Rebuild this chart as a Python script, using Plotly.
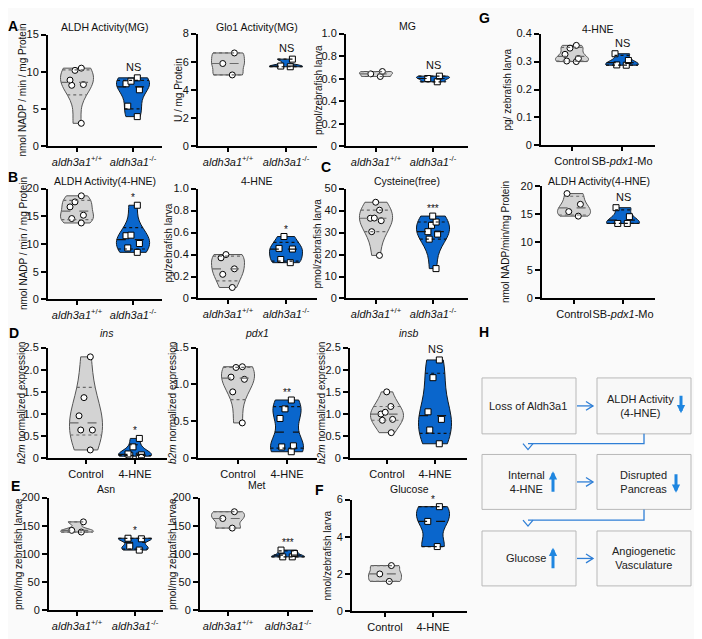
import numpy as np
import plotly.graph_objects as go

W, H = 702, 639
OFF = 8                      # default page body margin
FW, FH = W - OFF, H - OFF    # figure size so that page pixels match the reference
FONT = "Liberation Sans, Arial, Helvetica, sans-serif"
BG = "#fafafa"
GRAY_FILL, GRAY_LINE, GRAY_Q = "#d3d3d3", "#555555", "#6a6a6a"
BLUE_FILL, BLUE_LINE, BLUE_Q = "#0a66cc", "#101820", "#111111"
ARROW_BLUE = "#1f86e0"
LINK_BLUE = "#2f7fd6"

# ---------------- data ----------------
genotype_labels = ["<i>aldh3a1</i><sup>+/+</sup>", "<i>aldh3a1</i><sup>-/-</sup>"]
treatment_labels = ["Control", "4-HNE"]
morphant_labels = ["Control", "SB-<i>pdx1</i>-Mo"]

aldh_mg_wt = [10.5, 10.2, 8.9, 8.2, 8.3, 3.1]
aldh_mg_ko = [9.2, 8.75, 8.4, 7.6, 5.4, 4.0]
glo1_wt = [6.63, 5.88, 5.07]
glo1_ko = [6.19, 5.65, 5.70]
mg_wt = [0.664, 0.643, 0.620]
mg_ko = [0.623, 0.602, 0.573]
aldh_hne_wt = [18.7, 17.6, 16.7, 15.2, 14.6, 13.8]
aldh_hne_ko = [17.0, 11.5, 11.6, 10.1, 9.3, 8.5]
hne_wt = [0.40, 0.37, 0.27, 0.22, 0.10]
hne_ko = [0.564, 0.450, 0.456, 0.355, 0.326]
cys_wt = [43.8, 40.2, 36.5, 36.6, 35.4, 30.4, 19.6]
cys_ko = [37.5, 34.8, 33.3, 30.4, 29.3, 27.0, 13.6]
ins_ctrl = [2.29, 1.37, 0.96, 0.64, 0.64, 0.19]
ins_hne = [0.45, 0.26, 0.10, 0.07, 0.08, 0.05]
pdx1_ctrl = [1.24, 1.23, 1.10, 1.07, 0.90, 0.48]
pdx1_hne = [0.79, 0.67, 0.54, 0.17, 0.155, 0.09]
insb_ctrl = [1.50, 1.17, 1.04, 1.00, 0.88, 0.86, 0.58]
insb_hne = [2.22, 1.82, 1.05, 0.88, 0.64, 0.33]
asn_wt = [157, 142, 139]
asn_ko = [128, 127, 114, 107]
met_wt = [175, 163, 146]
met_ko = [107, 101, 95, 95]
glc_ctrl = [2.46, 2.01, 1.61]
glc_hne = [5.62, 4.83, 3.48]
g_hne_ctrl = [0.358, 0.348, 0.326, 0.311, 0.302, 0.300]
g_hne_mo = [0.328, 0.304, 0.288, 0.287]
g_aldh_ctrl = [18.6, 16.7, 15.4, 14.6]
g_aldh_mo = [16.1, 14.5, 13.3, 13.3]

ticks_15 = [0, 5, 10, 15]
ticks_8 = [0, 2, 4, 6, 8]
ticks_1 = [0, 0.2, 0.4, 0.6, 0.8, 1.0]
ticks_1_text = ["0", "0.2", "0.4", "0.6", "0.8", "1.0"]
ticks_20 = [0, 5, 10, 15, 20]
ticks_50 = [0, 10, 20, 30, 40, 50]
ticks_25 = [0, 0.5, 1.0, 1.5, 2.0, 2.5]
ticks_25_text = ["0", "0.5", "1.0", "1.5", "2.0", "2.5"]
ticks_15b = [0, 0.5, 1.0, 1.5]
ticks_15b_text = ["0", "0.5", "1.0", "1.5"]
ticks_200 = [0, 50, 100, 150, 200]
ticks_6 = [0, 2, 4, 6]
ticks_04 = [0, 0.1, 0.2, 0.3, 0.4]
ticks_04_text = ["0", "0.1", "0.2", "0.3", "0.4"]

flow_labels = ["Loss of Aldh3a1", "ALDH Activity<br>(4-HNE)", "Internal<br>4-HNE",
               "Disrupted<br>Pancreas", "Glucose", "Angiogenetic<br>Vasculature"]

# ---------------- panel layout ----------------
# (wt, ko, title, ytitle, ytick vals, ytick text, xlabels, sig,
#  left, right, top, bottom, cat0 px, cat1 px, title y px, ytitle x px)
panels = [
    (aldh_mg_wt, aldh_mg_ko, "ALDH Activity(MG)", "nmol NADP / min / mg Protein", ticks_15, None, genotype_labels, "NS",
     48, 162, 29, 143, 77, 133, 21, 23),
    (glo1_wt, glo1_ko, "Glo1 Activity(MG)", "U / mg Protein", ticks_8, None, genotype_labels, "NS",
     198, 317, 28, 143, 228, 286, 21, 178),
    (mg_wt, mg_ko, "MG", "pmol/zebrafish larva", ticks_1, ticks_1_text, genotype_labels, "NS",
     346, 468, 28, 143, 376, 433, 20, 318),
    (aldh_hne_wt, aldh_hne_ko, "ALDH Activity(4-HNE)", "nmol NADP / min / mg Protein", ticks_20, None, genotype_labels, "*",
     48, 162, 186, 299, 77, 133, 178, 23),
    (hne_wt, hne_ko, "4-HNE", "pg/zebrafish larva", ticks_1, ticks_1_text, genotype_labels, "*",
     198, 317, 186, 298, 228, 286, 178, 169),
    (cys_wt, cys_ko, "Cysteine(free)", "pmol/zebrafish larva", ticks_50, None, genotype_labels, "***",
     346, 468, 186, 298, 376, 433, 178, 318),
    (ins_ctrl, ins_hne, "<i>ins</i>", "<i>b2m</i> normalized expression", ticks_25, ticks_25_text, treatment_labels, "*",
     48, 167, 348, 461, 86, 135, 333, 22),
    (pdx1_ctrl, pdx1_hne, "<i>pdx1</i>", "<i>b2m</i> normalized expression", ticks_15b, ticks_15b_text, treatment_labels, "**",
     198, 317, 348, 461, 238, 287, 333, 173),
    (insb_ctrl, insb_hne, "<i>insb</i>", "<i>b2m</i> normalized expression", ticks_25, ticks_25_text, treatment_labels, "NS",
     350, 467, 348, 461, 387, 435, 333, 322),
    (asn_wt, asn_ko, "Asn", "pmol/mg zebrafish larvae", ticks_200, None, genotype_labels, "*",
     49, 163, 501, 616, 77, 135, 492, 18),
    (met_wt, met_ko, "Met", "pmol/mg zebrafish larvae", ticks_200, None, genotype_labels, "***",
     200, 313, 501, 616, 228, 288, 488, 172),
    (glc_ctrl, glc_hne, "Glucose", "nmol/zebrafish larva", ticks_6, None, treatment_labels, "*",
     352, 467, 503, 617, 385, 433, 492, 328),
    (g_hne_ctrl, g_hne_mo, "4-HNE", "pg/ zebrafish larva", ticks_04, ticks_04_text, morphant_labels, "NS",
     541, 655, 28, 142, 572, 622, 23, 508),
    (g_aldh_ctrl, g_aldh_mo, "ALDH Activity(4-HNE)", "nmol NADP/min/mg Protein", ticks_20, None, morphant_labels, "NS",
     542, 655, 183, 298, 574, 623, 178, 505),
]

VIOLIN_PX = 33  # violin full width in px


def px_x(x):
    return (x - OFF) / FW


def px_y(y):
    return 1 - (y - OFF) / FH


def kde(vals, bw, t):
    v = np.asarray(vals, float)
    return float(np.sum(np.exp(-0.5 * ((t - v) / bw) ** 2)))


def max_kde(vals, bw):
    lo, hi = min(vals), max(vals)
    dist = hi - lo
    n = int(np.ceil(dist / (bw / 3)))
    step = dist / n
    return max(kde(vals, bw, lo + i * step) for i in range(n + 1))


fig = go.Figure()
layout = dict(
    width=FW, height=FH, margin=dict(l=0, r=0, t=0, b=0),
    paper_bgcolor=BG, plot_bgcolor=BG, showlegend=False,
    font=dict(family=FONT, size=11, color="#111"),
    violinmode="overlay",
)
annotations = []
shapes = []

for i, (wt, ko, title, ytitle, yt, ytt, xl, sig, left, right, top, bottom, c0, c1, ty, ytx) in enumerate(panels):
    idx = i + 1
    xk = "xaxis" if idx == 1 else f"xaxis{idx}"
    yk = "yaxis" if idx == 1 else f"yaxis{idx}"
    xr = "x" if idx == 1 else f"x{idx}"
    yr = "y" if idx == 1 else f"y{idx}"
    s = c1 - c0
    width = VIOLIN_PX / s
    layout[xk] = dict(
        domain=[px_x(left), px_x(right)], anchor=yr,
        range=[(left - c0) / s, (right - c0) / s],
        tickmode="array", tickvals=[0, 1], ticktext=xl, tickangle=0,
        showline=True, linecolor="black", linewidth=2,
        ticks="outside", ticklen=4, tickwidth=1.5, tickcolor="black",
        showgrid=False, zeroline=False, fixedrange=True,
        tickfont=dict(size=11, family=FONT, color="#111"),
    )
    layout[yk] = dict(
        domain=[px_y(bottom), px_y(top)], anchor=xr,
        range=[0, yt[-1]],
        tickmode="array", tickvals=yt, ticktext=ytt if ytt else [str(v) for v in yt],
        showline=True, linecolor="black", linewidth=2,
        ticks="outside", ticklen=5, tickwidth=1.5, tickcolor="black",
        showgrid=False, zeroline=False, fixedrange=True,
        tickfont=dict(size=11, family=FONT, color="#111"),
    )
    for pos, vals, fill, lc, qc, sym in [(0, wt, GRAY_FILL, GRAY_LINE, GRAY_Q, "circle"),
                                         (1, ko, BLUE_FILL, BLUE_LINE, BLUE_Q, "square")]:
        bw = 0.25 * (max(vals) - min(vals))
        fig.add_trace(go.Violin(
            x=[pos] * len(vals), y=vals, xaxis=xr, yaxis=yr,
            width=width, spanmode="hard", bandwidth=bw, points=False,
            fillcolor=fill, line=dict(color=lc, width=1),
            box_visible=False, meanline_visible=False, hoverinfo="skip",
        ))
        mk = max_kde(vals, bw)
        for q, dash in [(25, "dot"), (50, "dash"), (75, "dot")]:
            v = float(np.percentile(vals, q, method="weibull"))
            hw = kde(vals, bw, v) / mk * width / 2
            fig.add_trace(go.Scatter(
                x=[pos - hw, pos + hw], y=[v, v], xaxis=xr, yaxis=yr, mode="lines",
                line=dict(color=qc, width=1.2, dash=dash), hoverinfo="skip",
            ))
        fig.add_trace(go.Violin(
            x=[pos] * len(vals), y=vals, xaxis=xr, yaxis=yr,
            width=width, spanmode="hard", bandwidth=bw, points="all",
            pointpos=0, jitter=0.5, fillcolor="rgba(0,0,0,0)", line=dict(width=0),
            marker=dict(symbol=sym, color="white", size=6, line=dict(color="black", width=1)),
            box_visible=False, meanline_visible=False, hoverinfo="skip",
        ))
    # significance
    annotations.append(dict(
        xref=xr, yref=yr, x=1, y=max(ko), text=sig, showarrow=False,
        xanchor="center", yanchor="bottom", yshift=3 if sig == "NS" else 0,
        font=dict(size=11 if sig == "NS" else 10, family=FONT, color="#111"),
    ))
    # panel title
    annotations.append(dict(
        xref="paper", yref="paper", x=px_x((left + right) / 2), y=px_y(ty), text=title,
        showarrow=False, xanchor="center", yanchor="middle",
        font=dict(size=10.5, family=FONT, color="#111"),
    ))
    # y axis title
    annotations.append(dict(
        xref="paper", yref="paper", x=px_x(ytx), y=px_y((top + bottom) / 2), text=ytitle,
        showarrow=False, xanchor="center", yanchor="middle", textangle=-90,
        font=dict(size=10, family=FONT, color="#111"),
    ))

# panel letters
for letter, lx, ly in [("A", 13, 20), ("B", 13, 174), ("C", 326, 164), ("D", 14, 333),
                       ("E", 15, 489), ("F", 319, 493), ("G", 485, 12), ("H", 484, 332)]:
    annotations.append(dict(
        xref="paper", yref="paper", x=px_x(lx), y=px_y(ly), text=f"<b>{letter}</b>",
        showarrow=False, xanchor="center", yanchor="middle",
        font=dict(size=14, family=FONT, color="#000"),
    ))

# ---------------- flow chart (panel H) ----------------
box_cols = [(482, 576), (597, 691)]
box_rows = [(379, 436), (457, 513), (535, 591)]
text_pos = [(528, 408), (640, 408), (526, 485), (643, 485), (526, 563), (644, 563)]
for r, (y0, y1) in enumerate(box_rows):
    for c, (x0, x1) in enumerate(box_cols):
        shapes.append(dict(type="rect", xref="paper", yref="paper",
                           x0=px_x(x0), x1=px_x(x1), y0=px_y(y1), y1=px_y(y0),
                           line=dict(color="#b8b8b8", width=1), fillcolor="#f8f8f8", layer="below"))
for lab, (tx, ty) in zip(flow_labels, text_pos):
    annotations.append(dict(
        xref="paper", yref="paper", x=px_x(tx), y=px_y(ty), text=lab, showarrow=False,
        xanchor="center", yanchor="middle", font=dict(size=11, family=FONT, color="#222"),
    ))


def pth(points):
    return "M " + " L ".join(f"{px_x(a):.5f},{px_y(b):.5f}" for a, b in points)


for (y0, y1) in box_rows:
    ym = (y0 + y1) / 2
    shapes.append(dict(type="path", xref="paper", yref="paper",
                       path=pth([(577, ym), (593, ym)]), line=dict(color=LINK_BLUE, width=1.3)))
    shapes.append(dict(type="path", xref="paper", yref="paper",
                       path=pth([(586, ym - 4.5), (593, ym), (586, ym + 4.5)]),
                       line=dict(color=LINK_BLUE, width=1.3)))
for ytop, ybend in [(436, 446), (513, 524)]:
    shapes.append(dict(type="path", xref="paper", yref="paper",
                       path=pth([(644, ytop), (644, ybend), (528, ybend)]),
                       line=dict(color=LINK_BLUE, width=1.3)))
    shapes.append(dict(type="path", xref="paper", yref="paper",
                       path=pth([(523, ybend), (528, ybend + 6), (533, ybend)]),
                       line=dict(color=LINK_BLUE, width=1.3)))

# small up/down indicator arrows
for ax_, y_tip, y_tail in [(681, 415, 396), (553, 474, 496), (676, 496, 476), (553, 552, 574)]:
    annotations.append(dict(
        xref="paper", yref="paper", x=px_x(ax_), y=px_y(y_tip), ax=0, ay=y_tail - y_tip,
        axref="pixel", ayref="pixel", text="", showarrow=True, arrowhead=2,
        arrowsize=0.55, arrowwidth=3, arrowcolor=ARROW_BLUE,
    ))

layout["annotations"] = annotations
layout["shapes"] = shapes
fig.update_layout(**layout)
fig.write_html("out.html")
